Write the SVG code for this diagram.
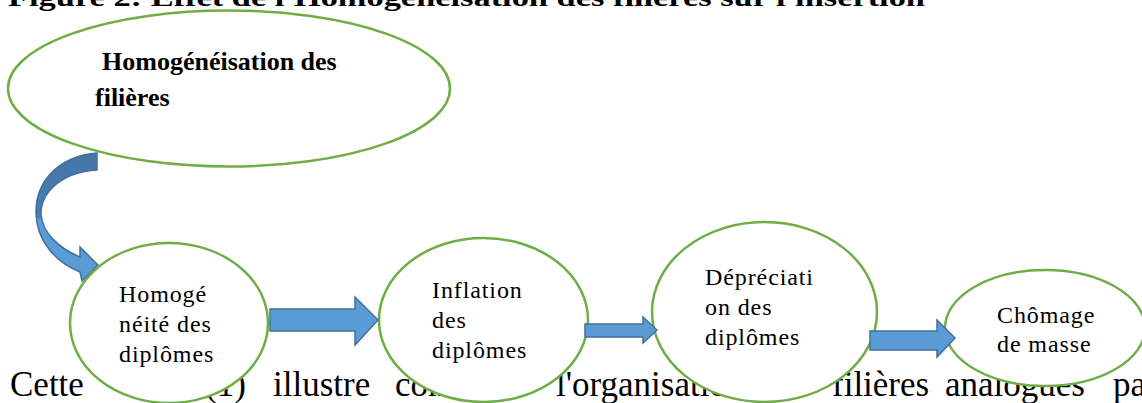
<svg xmlns="http://www.w3.org/2000/svg" width="1142" height="403" viewBox="0 0 1142 403">
<style>
.bg{fill:#fff}
.node{fill:#fff;stroke:#70AD47;stroke-width:2.5}
.lbl{font-family:"Liberation Serif",serif;font-size:24px;letter-spacing:0.9px;fill:#000}
.blbl{font-family:"Liberation Serif",serif;font-size:26px;font-weight:bold;fill:#000}
.para{font-family:"Liberation Serif",serif;font-size:35px;fill:#000}
.head{font-family:"Liberation Serif",serif;font-size:26px;font-weight:bold;fill:#000}
.arr{fill:#5B9BD5;stroke:#41719C;stroke-width:1.5;stroke-linejoin:miter}
</style>
<defs>
<linearGradient id="curveGrad" x1="0" y1="0" x2="0" y2="1" gradientUnits="objectBoundingBox">
<stop offset="0" stop-color="#4676A8"/>
<stop offset="0.5" stop-color="#4A7DB3"/>
<stop offset="0.52" stop-color="#5B9BD5"/>
<stop offset="1" stop-color="#5B9BD5"/>
</linearGradient>
</defs>
<rect class="bg" x="0" y="0" width="1142" height="403"/>
<text class="head" x="8" y="6" textLength="917" lengthAdjust="spacingAndGlyphs">Figure 2: Effet de l'Homogénéisation des filières sur l'insertion</text>
<g id="paragraph">
<text class="para" y="396"><tspan x="10">Cette</tspan><tspan x="205">(1)</tspan><tspan x="273">illustre</tspan><tspan x="395">comment</tspan><tspan x="556">l'organisation</tspan><tspan x="832">filières</tspan><tspan x="945">analogues</tspan><tspan x="1113">par</tspan></text>
</g>
<g id="connectors">
<path class="arr" d="M97,153 C60,156 36,180 36,212 C36,240 55,262 80,272 L82,281 L98,265 L80,247 L80,257 C58,248 42,232 41,214 C41,192 62,172 97,170 Z" style="fill:url(#curveGrad)"/>
</g>
<g id="n0">
<ellipse class="node" cx="229" cy="88.5" rx="221" ry="78"/>
<text class="blbl" x="102" y="70">Homogénéisation des</text>
<text class="blbl" x="95" y="106">filières</text>
</g>
<g id="n1">
<ellipse class="node" cx="169" cy="323" rx="99" ry="80"/>
<text class="lbl" x="119" y="302">Homogé</text>
<text class="lbl" x="119" y="332">néité des</text>
<text class="lbl" x="119" y="362">diplômes</text>
</g>
<g id="n2">
<ellipse class="node" cx="483.5" cy="320" rx="104.5" ry="82"/>
<text class="lbl" x="432" y="298">Inflation</text>
<text class="lbl" x="432" y="328">des</text>
<text class="lbl" x="432" y="358">diplômes</text>
</g>
<g id="n3">
<ellipse class="node" cx="764.5" cy="312" rx="112.5" ry="90"/>
<text class="lbl" x="705" y="285">Dépréciati</text>
<text class="lbl" x="705" y="315">on des</text>
<text class="lbl" x="705" y="345">diplômes</text>
</g>
<g id="n4">
<ellipse class="node" cx="1045" cy="328" rx="100" ry="58"/>
<text class="lbl" x="997" y="323">Chômage</text>
<text class="lbl" x="997" y="352">de masse</text>
</g>
<g id="flow-arrows">
<path class="arr" d="M270,309 L355,309 L355,297 L378,320 L355,345 L355,331 L270,331 Z"/>
<path class="arr" d="M585,324 L643,324 L643,317 L657,330 L643,343 L643,337 L585,337 Z"/>
<path class="arr" d="M870,331 L937,331 L937,320 L955,338 L937,357 L937,350 L870,350 Z"/>
</g>
</svg>
